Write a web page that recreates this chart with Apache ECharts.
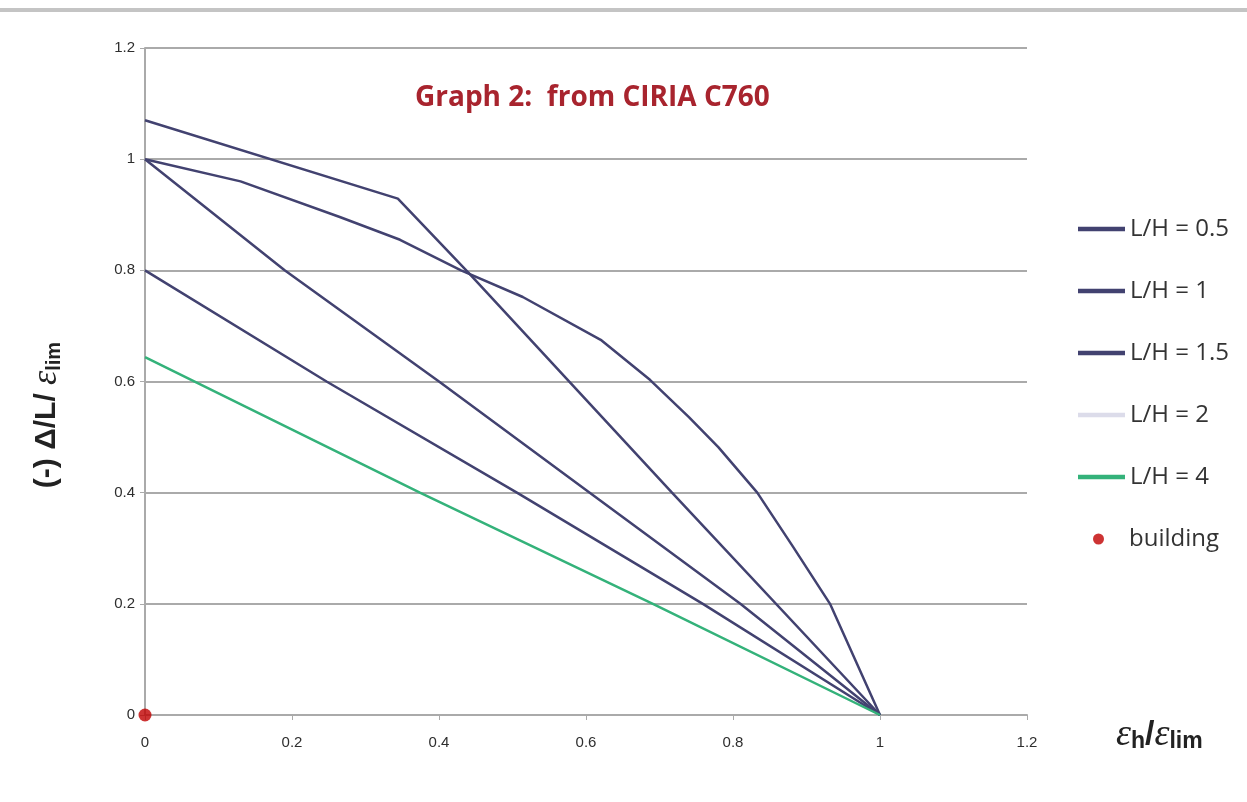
<!DOCTYPE html>
<html>
<head>
<meta charset="utf-8">
<script src="https://cdn.jsdelivr.net/npm/echarts@6/dist/echarts.min.js"></script>
<style>html,body{margin:0;padding:0;background:#fff}#c{width:1247px;height:802px}</style>
</head>
<body>
<div id="c"></div>
<script>
// Data (x = εh/εlim, y = Δ/L/εlim)
const seriesNames = ['L/H = 0.5', 'L/H = 1', 'L/H = 1.5', 'L/H = 2', 'L/H = 4'];
const lh05 = [[0, 1.07], [0.344, 0.929], [0.44, 0.796], [0.717, 0.4], [1, 0]];
const lh1 = [[0, 1], [0.13, 0.96], [0.265, 0.896], [0.347, 0.855], [0.43, 0.80], [0.514, 0.752], [0.62, 0.675], [0.687, 0.603], [0.74, 0.536], [0.78, 0.482], [0.833, 0.4], [0.882, 0.302], [0.932, 0.2], [1, 0]];
const lh15 = [[0, 1], [0.19, 0.8], [0.4, 0.6], [0.6, 0.405], [0.81, 0.2], [1, 0]];
const lh2 = [[0, 0.8], [0.247, 0.6], [0.506, 0.4], [0.759, 0.2], [1, 0]];
const lh4 = [[0, 0.644], [0.374, 0.4], [0.691, 0.2], [1, 0]];
const building = [[0, 0]];
const xTicks = [0, 0.2, 0.4, 0.6, 0.8, 1, 1.2];
const yTicks = [0, 0.2, 0.4, 0.6, 0.8, 1, 1.2];

const dark = '#424270';
const green = '#34b27a';
const lineSets = [lh05, lh1, lh15, lh2, lh4];
const lineColors = [dark, dark, dark, dark, green];
const legendIconColors = [dark, dark, dark, '#dcdcea', green];

const chart = echarts.init(document.getElementById('c'));
const tickFont = { fontFamily: 'Liberation Sans Narrow, Liberation Sans, sans-serif', fontSize: 15, color: '#2e2e2e' };

const series = lineSets.map((d, i) => ({
  name: seriesNames[i], type: 'line', data: d, symbol: 'none', smooth: false,
  lineStyle: { color: lineColors[i], width: 2.5 }, itemStyle: { color: lineColors[i] }, z: i === 4 ? 3 : 2
}));
series.push({
  name: 'building', type: 'scatter', data: building, symbol: 'circle', symbolSize: 13,
  itemStyle: { color: '#c00000' }, z: 5, clip: false
});

chart.setOption({
  animation: false,
  backgroundColor: '#fff',
  title: {
    text: 'Graph 2:  from CIRIA C760', left: 410, top: 79,
    textStyle: { fontFamily: 'Open Sans', fontWeight: 'bold', fontSize: 28, color: '#a8242e' }
  },
  grid: { left: 145, right: 220, top: 48, bottom: 87 },
  legend: [{
    orient: 'vertical', left: 1073, top: 212, itemWidth: 47, itemHeight: 14, itemGap: 38,
    textStyle: { fontFamily: 'Open Sans', fontSize: 24, color: '#333' },
    data: seriesNames.map((n, i) => ({ name: n, icon: 'path://M0,0L10,0L10,1L0,1Z', itemStyle: { color: legendIconColors[i] } }))
  }, {
    orient: 'vertical', left: 1088, top: 522, itemWidth: 11, itemHeight: 11, itemGap: 0,
    textStyle: { fontFamily: 'Open Sans', fontSize: 24, color: '#333', padding: [0, 0, 0, 20] },
    data: [{ name: 'building', icon: 'circle' }]
  }],
  xAxis: {
    type: 'value', min: 0, max: 1.2, interval: 0.2,
    axisLine: { show: true, onZero: false, lineStyle: { color: '#aaaaaa', width: 2 } },
    axisTick: { show: true, length: 5, lineStyle: { color: '#aaaaaa' } },
    axisLabel: Object.assign({ margin: 20, formatter: v => String(xTicks.find(t => Math.abs(t - v) < 1e-6) ?? v) }, tickFont),
    splitLine: { show: false }
  },
  yAxis: {
    type: 'value', min: 0, max: 1.2, interval: 0.2,
    axisLine: { show: true, lineStyle: { color: '#aaaaaa', width: 2 } },
    axisTick: { show: true, length: 5, lineStyle: { color: '#aaaaaa' } },
    axisLabel: Object.assign({ margin: 10, formatter: v => String(yTicks.find(t => Math.abs(t - v) < 1e-6) ?? v) }, tickFont),
    splitLine: { show: true, lineStyle: { color: '#aaaaaa', width: 2 } }
  },
  graphic: [
    { type: 'rect', shape: { x: 0, y: 8, width: 1247, height: 4 }, style: { fill: '#c4c4c4' }, silent: true },
    {
      type: 'text', x: 47, y: 415, rotation: Math.PI / 2, silent: true,
      style: {
        text: '{a|(-) Δ/L/ }{e|ε}{s|lim}', align: 'center', verticalAlign: 'middle',
        rich: {
          a: { fontFamily: 'Liberation Sans', fontSize: 30, fontWeight: 'bold', fill: '#222' },
          e: { fontFamily: 'Liberation Serif', fontSize: 36, fontStyle: 'italic', fill: '#222' },
          s: { fontFamily: 'Liberation Sans', fontSize: 20, fontWeight: 'bold', fill: '#222', padding: [14, 0, 0, 0] }
        }
      }
    },
    {
      type: 'text', x: 1116, y: 735, silent: true,
      style: {
        text: '{e|ε}{s|h}{a|/}{e|ε}{s|lim}', verticalAlign: 'middle',
        rich: {
          a: { fontFamily: 'Liberation Sans', fontSize: 34, fontWeight: 'bold', fill: '#222' },
          e: { fontFamily: 'Liberation Serif', fontSize: 38, fontStyle: 'italic', fill: '#222' },
          s: { fontFamily: 'Liberation Sans', fontSize: 23, fontWeight: 'bold', fill: '#222', padding: [14, 0, 0, 0] }
        }
      }
    }
  ],
  series: series
});
</script>
</body>
</html>
